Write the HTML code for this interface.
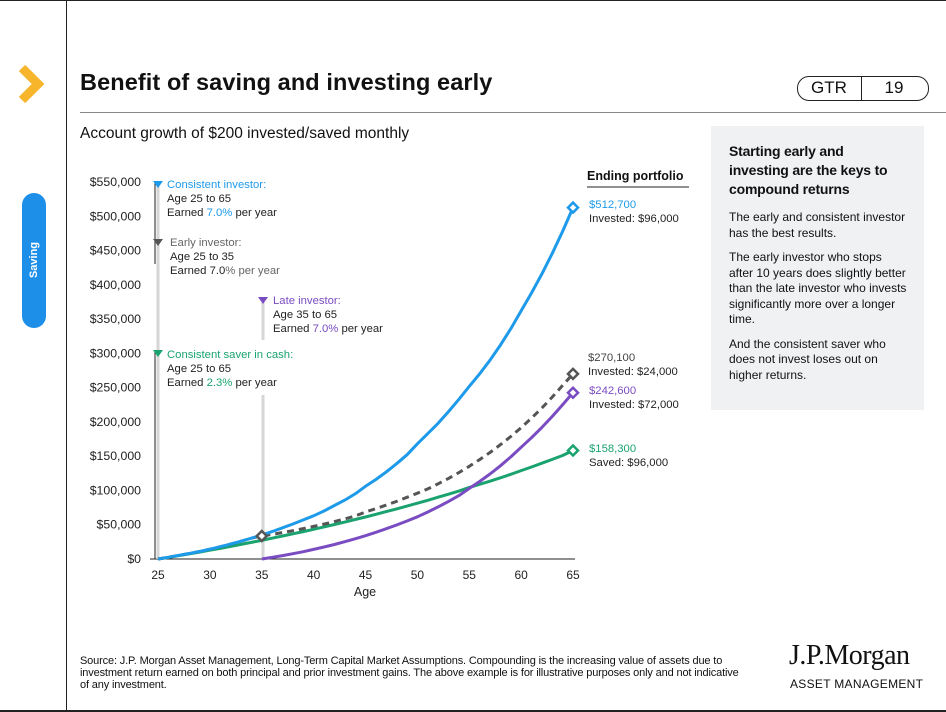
<!DOCTYPE html>
<html><head><meta charset="utf-8"><style>
body{margin:0;width:946px;height:712px;background:#fff;font-family:"Liberation Sans",sans-serif;position:relative;overflow:hidden;color:#111}
.a{position:absolute}
</style></head><body>
<div class="a" style="left:0;top:0;width:946px;height:1px;background:#222"></div>
<div class="a" style="left:0;top:710px;width:946px;height:2px;background:#222"></div>
<div class="a" style="left:66px;top:0;width:1px;height:712px;background:#222"></div>
<svg class="a" style="left:16px;top:64px" width="32" height="40"><polyline points="6,4 22,20 6,36" fill="none" stroke="#f7b52c" stroke-width="9"/></svg>
<div class="a" style="left:22px;top:193px;width:24px;height:135px;background:#1e8fe8;border-radius:12px"></div>
<div class="a" style="left:-6px;top:254px;width:80px;text-align:center;color:#fff;font-size:11px;font-weight:bold;transform:rotate(-90deg)">Saving</div>
<div class="a" style="left:80px;top:69px;font-size:23.5px;font-weight:bold;letter-spacing:0.1px">Benefit of saving and investing early</div>
<div class="a" style="left:80px;top:112px;width:866px;height:1px;background:#888"></div>
<div class="a" style="left:797px;top:76px;width:130px;height:23px;border:1px solid #222;border-radius:12px"></div>
<div class="a" style="left:797px;top:78px;width:64px;text-align:center;font-size:17px">GTR</div>
<div class="a" style="left:861px;top:77px;width:1px;height:23px;background:#222"></div>
<div class="a" style="left:862px;top:78px;width:64px;text-align:center;font-size:17px">19</div>
<div class="a" style="left:80px;top:125px;font-size:15.5px">Account growth of $200 invested/saved monthly</div>

<div class="a" style="left:711px;top:126px;width:213px;height:284px;background:#f0f1f3"></div>
<div class="a" style="left:729px;top:142px;width:172px;font-size:14px;font-weight:bold;line-height:19px;letter-spacing:-0.2px">Starting early and investing are the keys to compound returns</div>
<div class="a" style="left:729px;top:210px;width:180px;font-size:12px;line-height:15.5px">
<p style="margin:0 0 9px">The early and consistent investor has the best results.</p>
<p style="margin:0 0 9px">The early investor who stops after 10 years does slightly better than the late investor who invests significantly more over a longer time.</p>
<p style="margin:0">And the consistent saver who does not invest loses out on higher returns.</p></div>

<div class="a" style="left:80px;top:655px;width:660px;font-size:11px;line-height:12px;letter-spacing:-0.15px">Source: J.P. Morgan Asset Management, Long-Term Capital Market Assumptions. Compounding is the increasing value of assets due to investment return earned on both principal and prior investment gains. The above example is for illustrative purposes only and not indicative of any investment.</div>
<div class="a" style="left:789px;top:640px;font-family:'Liberation Serif',serif;font-size:28px;letter-spacing:-0.5px">J.P.Morgan</div>
<div class="a" style="left:790px;top:677px;font-size:12px;letter-spacing:0.3px">ASSET MANAGEMENT</div>

<svg class="a" id="chart" style="left:0;top:0" width="946" height="712" font-family="Liberation Sans, sans-serif"></svg>
<script>
const ages=[25,26,27,28,29,30,31,32,33,34,35,36,37,38,39,40,41,42,43,44,45,46,47,48,49,50,51,52,53,54,55,56,57,58,59,60,61,62,63,64,65];
const consistent=[0,2.5,5.2,8,11,14.3,18,21.8,26,30.3,35,40,45.5,51,57,63,70,78,86,95,106,116,127,139,152,168,183,198,215,233,252,270,290,312,336,362,388,416,446,478,512.7];
const early=[0,2.5,5.2,8,11,14.3,18,21.8,26,30.3,33.5,35.9,38.5,41.3,44.3,47.5,50.9,54.6,58.5,62.8,68.5,73.5,78.6,84,90,96,102.3,109.7,117.6,126.1,135.2,145,155.4,166.7,178.7,191.6,205.5,220.3,236.3,253.3,270.1];
const lateAges=[35,36,37,38,39,40,41,42,43,44,45,46,47,48,49,50,51,52,53,54,55,56,57,58,59,60,61,62,63,64,65];
const late=[0,2.4,5,7.8,10.7,14,17.5,21.2,25.2,29.4,34,39,44.2,49.6,55.5,61.5,68.5,76,84,92.5,103,113,124,136,149,163,177,192,208,225,242.6];
const saver=[0,2.4,4.9,7.5,10.1,12.8,15.5,18.4,21.3,24.2,27.2,30.3,33.5,36.7,40,43.4,46.8,50.3,53.9,57.6,61.3,65.2,69.1,73.1,77.2,81.4,85.7,90.1,94.5,99.1,104.5,109,113.5,118.5,123.6,128.9,134.2,139.7,145.3,151,158.3];
const yTicks=[0,50,100,150,200,250,300,350,400,450,500,550];
const xTicks=[25,30,35,40,45,50,55,60,65];
const svg=document.getElementById('chart');const NS='http://www.w3.org/2000/svg';
const X=a=>158+(a-25)*(573-158)/40;
const Y=v=>559-v*(559-182)/550;
function mk(t,attrs,name,txt){const e=document.createElementNS(NS,t);for(const k in attrs)e.setAttribute(k,attrs[k]);


if(txt!==undefined)e.textContent=txt;svg.appendChild(e);return e;}
yTicks.forEach(v=>{mk('text',{x:141,y:Y(v)+4,'text-anchor':'end','font-size':12.3,fill:'#222'},'y-tick-label','$'+(v*1000).toLocaleString('en-US'));});
xTicks.forEach(a=>{mk('text',{x:X(a),y:579,'text-anchor':'middle','font-size':12,fill:'#222'},'x-tick-label',String(a));});
mk('text',{x:365,y:596,'text-anchor':'middle','font-size':12.5,fill:'#222'},'x-axis-title','Age');
mk('line',{x1:150,x2:575,y1:559,y2:559,stroke:'#222','stroke-width':1},'x-axis');
mk('line',{x1:158,x2:158,y1:185,y2:559,stroke:'#d6d6d6','stroke-width':3},'annotation-guide');
mk('line',{x1:155,x2:155,y1:182,y2:264,stroke:'#222','stroke-width':1},'annotation-guide-dark');
mk('line',{x1:155,x2:155,y1:350,y2:559,stroke:'#222','stroke-width':1},'annotation-guide-dark');
mk('line',{x1:263,x2:263,y1:302,y2:340,stroke:'#d6d6d6','stroke-width':3},'late-guide');
mk('line',{x1:263,x2:263,y1:395,y2:559,stroke:'#d6d6d6','stroke-width':3},'late-guide');
function path(xs,vs,col,name,dash){const d=vs.map((v,i)=>(i?'L':'M')+X(xs[i]).toFixed(1)+','+Y(v).toFixed(1)).join('');
const p=mk('path',{d:d,fill:'none',stroke:col,'stroke-width':3,'stroke-linejoin':'round'},name);if(dash)p.setAttribute('stroke-dasharray',dash);}
path(ages,saver,'#1aa36f','saver-line');
path(lateAges,late,'#7a4cc2','late-investor-line');
path(ages,early,'#555','early-investor-line','7,5');
path(ages,consistent,'#1e9aea','consistent-investor-line');
function dia(a,v,col,name){const x=X(a),y=Y(v);mk('path',{d:`M${x},${y-5}L${x+5},${y}L${x},${y+5}L${x-5},${y}Z`,fill:'#fff',stroke:col,'stroke-width':2.5},name);}
dia(35,early[10],'#555','early-stop-marker');
dia(65,consistent[40],'#1e9aea','consistent-end-marker');
dia(65,early[40],'#555','early-end-marker');
dia(65,late[30],'#7a4cc2','late-end-marker');
dia(65,saver[40],'#1aa36f','saver-end-marker');
function tri(x,y,col,name){mk('path',{d:`M${x-5},${y}L${x+5},${y}L${x},${y+7}Z`,fill:col},name);}
function label(x,y,lines,name){const t=mk('text',{x:x,y:y,'font-size':11.3,fill:'#222'},name);
lines.forEach((ln,i)=>{ln.forEach((s,j)=>{const ts=document.createElementNS(NS,'tspan');if(j===0){ts.setAttribute('x',x);ts.setAttribute('dy',i?14:0);}ts.setAttribute('fill',s[1]);ts.textContent=s[0];t.appendChild(ts);});});}
tri(158,181,'#1e9aea','consistent-marker');
label(167,188,[[['Consistent investor:','#1e9aea']],[['Age 25 to 65','#222']],[['Earned ','#222'],['7.0%','#1e9aea'],[' per year','#222']]],'consistent-annotation');
tri(158,239,'#555','early-marker');
label(170,246,[[['Early investor:','#666']],[['Age 25 to 35','#222']],[['Earned 7.0','#222'],['% per year','#666']]],'early-annotation');
tri(263,297,'#7a4cc2','late-marker');
label(273,304,[[['Late investor:','#7a4cc2']],[['Age 35 to 65','#222']],[['Earned ','#222'],['7.0%','#7a4cc2'],[' per year','#222']]],'late-annotation');
tri(158,350,'#1aa36f','saver-marker');
label(167,358,[[['Consistent saver in cash:','#1aa36f']],[['Age 25 to 65','#222']],[['Earned ','#222'],['2.3%','#1aa36f'],[' per year','#222']]],'saver-annotation');
mk('text',{x:587,y:180,'font-size':12.5,'font-weight':'bold',fill:'#111'},'ending-portfolio-heading','Ending portfolio');
mk('line',{x1:587,x2:689,y1:187,y2:187,stroke:'#222','stroke-width':1},'ending-portfolio-rule');
label(589,208,[[['$512,700','#1e9aea']],[['Invested: $96,000','#222']]],'consistent-end-label');
label(588,361,[[['$270,100','#444']],[['Invested: $24,000','#222']]],'early-end-label');
label(589,394,[[['$242,600','#7a4cc2']],[['Invested: $72,000','#222']]],'late-end-label');
label(589,452,[[['$158,300','#1aa36f']],[['Saved: $96,000','#222']]],'saver-end-label');
</script>
</body></html>
